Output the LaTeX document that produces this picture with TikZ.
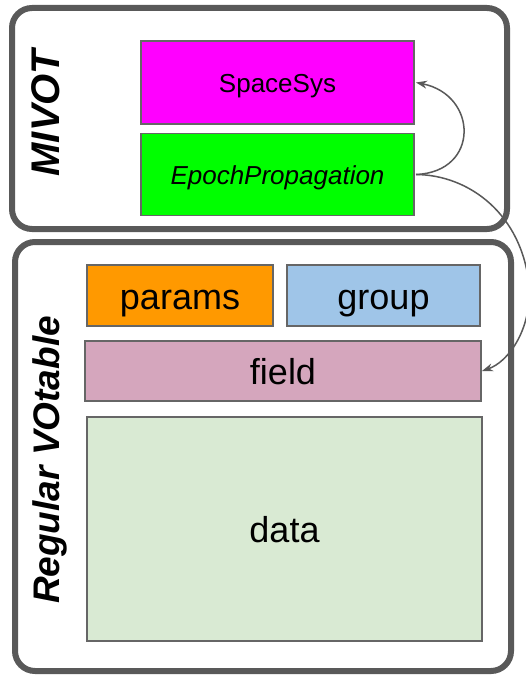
\documentclass[tikz,border=0pt]{standalone}
\usepackage{fontspec}
\setmainfont{Liberation Sans}
\usetikzlibrary{arrows.meta}
\definecolor{frame}{HTML}{595959}
\definecolor{boxline}{HTML}{666666}
\definecolor{cMag}{HTML}{FF00FF}
\definecolor{cGreen}{HTML}{00FF00}
\definecolor{cOrange}{HTML}{FF9900}
\definecolor{cBlue}{HTML}{9FC5E8}
\definecolor{cPink}{HTML}{D5A6BD}
\definecolor{cData}{HTML}{D9EAD3}
\tikzset{
  outerbox/.style={draw=frame, line width=6pt, rounded corners=20pt},
  inbox/.style={draw=boxline, line width=1.2pt, inner sep=0pt, outer sep=0pt},
  smalltext/.style={font=\fontsize{26}{30}\selectfont, text height=23.4pt, text depth=3.8pt},
  bigtext/.style={font=\fontsize{36}{40}\selectfont, text height=32.4pt, text depth=5pt},
  sidelabel/.style={rotate=90, font=\bfseries\itshape},
  link/.style={draw=frame, line width=1.5pt, -{Stealth[length=11pt,width=8pt]}}
}
\begin{document}
\begin{tikzpicture}[x=1pt,y=-1pt]
\useasboundingbox (0,0) rectangle (526,676);
\fill[white] (0,0) rectangle (526,676);
% frames
\draw[outerbox] (12,8) rectangle (507,229);
\draw[outerbox] (15,242) rectangle (511,671);
\node[sidelabel, font=\fontsize{40}{44}\selectfont\bfseries\itshape] (mivot) at (46,113) {MIVOT};
\node[sidelabel, font=\fontsize{37}{40}\selectfont\bfseries\itshape] (votable) at (50,460) {Regular VOtable};
% MIVOT boxes
\node[inbox, fill=cMag, minimum width=273pt, minimum height=83pt, smalltext] (space) at (277.5,82.5) {SpaceSys};
\node[inbox, fill=cGreen, minimum width=273pt, minimum height=82pt, smalltext] (epoch) at (277.5,174.5) {\itshape EpochPropagation};
% VOtable boxes
\node[inbox, fill=cOrange, minimum width=186pt, minimum height=61pt, bigtext] (params) at (180,295.5) {params};
\node[inbox, fill=cBlue, minimum width=193pt, minimum height=61pt, bigtext] (group) at (383.5,295.5) {group};
\node[inbox, fill=cPink, minimum width=396pt, minimum height=60pt, bigtext] (field) at (283,371) {field};
\node[inbox, fill=cData, minimum width=395pt, minimum height=224pt, bigtext] (data) at (284.5,529) {data};
% links
\coordinate (bend) at (529,285);
\draw[link] ([xshift=2pt]epoch.east) .. controls (480,172) and (478,95) .. ([xshift=2pt]space.east);
\draw[link] ([xshift=2pt]epoch.east) .. controls (470,175) and (522,215) .. (bend) .. controls (532,330) and (508,362) .. ([xshift=1pt]field.east);
\end{tikzpicture}
\end{document}
